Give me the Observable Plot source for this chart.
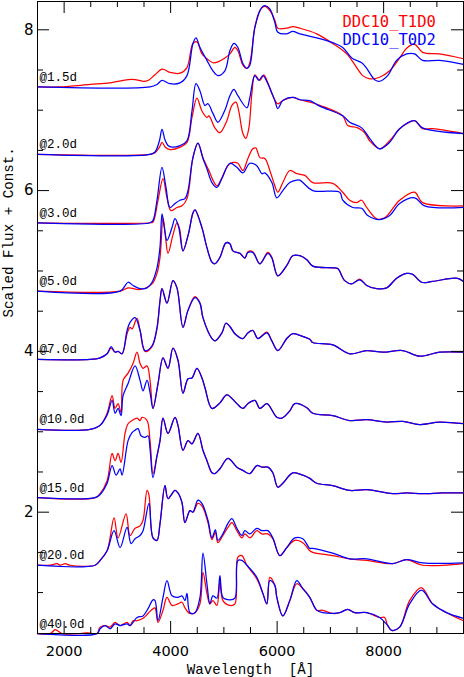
<!DOCTYPE html>
<html><head><meta charset="utf-8">
<script src="https://cdn.jsdelivr.net/npm/d3@7"></script>
<script src="https://cdn.jsdelivr.net/npm/@observablehq/plot@0.6"></script>
<style>
body{margin:0;background:#fff;}
svg text{white-space:pre;}
</style></head><body><div id="chart"></div>
<script>
const epochs = ["@1.5d","@2.0d","@3.0d","@5.0d","@7.0d","@10.0d","@15.0d","@20.0d","@40.0d"];
const labelBase = [7.29, 6.45, 5.60, 4.75, 3.90, 3.03, 2.18, 1.34, 0.49];
const models = ["DDC10_T1D0", "DDC10_T0D2"];
const modelColors = ["#ff0000", "#0000ff"];
const xMajor = [2000, 4000, 6000, 8000];
const xMinor = [2500, 3000, 3500, 4500, 5000, 5500, 6500, 7000, 7500, 8500, 9000];
const yMajor = [2, 4, 6, 8];
const yMinor = [1, 1.5, 2.5, 3, 3.5, 4.5, 5, 5.5, 6.5, 7, 7.5];
const xTitle = "Wavelength  [Å]";
const yTitle = "Scaled Flux + Const.";

// [wavelength (Å), scaled flux + const]
const red_1_5 = [[1500,7.29],[1926,7.29],[2488,7.32],[2863,7.34],[3201,7.38],[3332,7.38],[3482,7.36],[3576,7.37],[3707,7.44],[3838,7.51],[3988,7.47],[4176,7.46],[4307,7.53],[4419,7.83],[4494,7.85],[4588,7.70],[4682,7.64],[4794,7.59],[4888,7.60],[5019,7.65],[5113,7.70],[5207,7.78],[5263,7.74],[5357,7.56],[5432,7.52],[5488,7.59],[5582,8.03],[5676,8.24],[5769,8.29],[5863,8.24],[5957,8.12],[6013,8.02],[6182,8.02],[6294,8.04],[6426,8.02],[6744,7.95],[7044,7.83],[7307,7.70],[7494,7.53],[7607,7.43],[7738,7.39],[7926,7.41],[8113,7.49],[8301,7.65],[8432,7.77],[8582,7.82],[8732,7.72],[9051,7.70],[9500,7.64]];
const blue_1_5 = [[1500,7.29],[3613,7.29],[3744,7.32],[3838,7.37],[3988,7.33],[4176,7.34],[4307,7.43],[4419,7.83],[4476,7.90],[4551,7.78],[4682,7.62],[4794,7.49],[4888,7.43],[5019,7.49],[5113,7.74],[5188,7.83],[5263,7.78],[5357,7.58],[5432,7.52],[5488,7.56],[5582,8.03],[5713,8.28],[5769,8.30],[5863,8.26],[5957,8.09],[6013,7.97],[6182,7.95],[6294,7.98],[6426,7.95],[6744,7.90],[7044,7.84],[7232,7.78],[7401,7.65],[7588,7.59],[7682,7.52],[7832,7.38],[7926,7.36],[8076,7.43],[8244,7.62],[8432,7.70],[8582,7.70],[8732,7.62],[9051,7.62],[9500,7.57]];

const red_2_0 = [[1500,6.45],[3613,6.45],[3707,6.47],[3790,6.54],[3838,6.60],[3900,6.54],[3988,6.51],[4176,6.54],[4307,6.60],[4401,6.91],[4494,7.15],[4588,6.99],[4682,6.91],[4720,6.93],[4832,6.78],[4926,6.72],[5057,6.87],[5151,7.06],[5226,7.10],[5282,6.98],[5357,6.71],[5413,6.65],[5470,6.78],[5526,7.21],[5582,7.44],[5676,7.37],[5751,7.44],[5826,7.34],[5919,7.18],[6013,7.08],[6107,7.12],[6294,7.16],[6426,7.13],[6613,7.10],[6801,7.06],[7232,6.93],[7326,6.81],[7513,6.78],[7644,6.72],[7738,6.62],[7926,6.52],[8113,6.62],[8301,6.77],[8488,6.85],[8582,6.87],[8732,6.77],[8919,6.77],[9500,6.71]];
const blue_2_0 = [[1500,6.45],[3613,6.45],[3707,6.48],[3790,6.62],[3838,6.76],[3895,6.63],[3951,6.56],[4026,6.54],[4176,6.56],[4307,6.62],[4401,6.99],[4476,7.33],[4551,7.24],[4644,7.06],[4701,7.08],[4794,6.96],[4888,6.85],[5019,7.00],[5113,7.18],[5188,7.26],[5263,7.18],[5432,7.03],[5488,7.16],[5582,7.43],[5657,7.37],[5732,7.43],[5826,7.33],[5957,7.12],[6013,7.02],[6107,7.12],[6294,7.16],[6426,7.13],[6613,7.12],[6801,7.05],[7232,6.93],[7363,6.85],[7588,6.78],[7738,6.65],[7926,6.52],[8113,6.60],[8301,6.77],[8582,6.87],[8732,6.78],[9500,6.71]];

const red_3_0 = [[1500,5.60],[3613,5.60],[3669,5.61],[3763,5.88],[3857,6.15],[3932,5.91],[4007,5.75],[4119,5.79],[4213,5.81],[4307,5.90],[4419,6.41],[4513,6.59],[4607,6.41],[4682,6.30],[4738,6.22],[4794,6.13],[4869,6.06],[4963,6.16],[5076,6.31],[5169,6.35],[5263,6.34],[5357,6.25],[5451,6.40],[5544,6.52],[5601,6.53],[5676,6.41],[5769,6.40],[5863,6.25],[5957,6.06],[6013,5.98],[6107,6.10],[6238,6.25],[6369,6.21],[6520,6.19],[6669,6.10],[7044,6.09],[7232,5.98],[7363,5.88],[7494,5.85],[7588,5.88],[7682,5.79],[7869,5.65],[8019,5.66],[8301,5.88],[8582,5.98],[8732,5.85],[9500,5.81]];
const blue_3_0 = [[1500,5.60],[3613,5.60],[3669,5.63],[3744,5.88],[3838,6.29],[3913,6.04],[3988,5.79],[4082,5.84],[4176,5.88],[4269,5.90],[4326,6.00],[4419,6.41],[4513,6.59],[4607,6.40],[4682,6.27],[4776,6.10],[4869,6.04],[4963,6.15],[5113,6.34],[5244,6.29],[5357,6.22],[5488,6.34],[5619,6.31],[5713,6.21],[5769,6.22],[5901,6.10],[5994,5.91],[6107,6.00],[6238,6.10],[6369,6.13],[6426,6.13],[6669,6.00],[7176,5.98],[7232,5.88],[7419,5.79],[7588,5.78],[7701,5.69],[7926,5.64],[8113,5.69],[8301,5.84],[8582,5.91],[8769,5.81],[9500,5.79]];

const red_5_0 = [[1500,4.75],[3051,4.75],[3201,4.79],[3426,4.77],[3651,4.84],[3744,4.97],[3801,5.17],[3857,5.66],[3900,5.45],[3951,5.22],[4044,5.45],[4119,5.60],[4170,5.52],[4232,5.25],[4330,5.45],[4419,5.72],[4457,5.76],[4588,5.54],[4682,5.29],[4776,5.11],[4832,5.09],[4926,5.17],[5038,5.35],[5113,5.34],[5169,5.25],[5301,5.22],[5394,5.16],[5451,5.24],[5544,5.24],[5676,5.09],[5826,5.23],[5901,5.17],[6013,4.94],[6182,5.07],[6294,5.19],[6426,5.19],[6557,5.14],[6669,5.06],[7044,5.04],[7138,5.03],[7269,4.88],[7401,4.84],[7551,4.90],[7682,4.82],[7869,4.78],[8057,4.79],[8244,4.91],[8432,4.97],[8544,4.96],[8713,4.86],[8919,4.87],[9369,4.91],[9500,4.87]];
const blue_5_0 = [[1500,4.75],[3051,4.75],[3201,4.86],[3294,4.82],[3426,4.78],[3557,4.79],[3651,4.86],[3744,5.04],[3801,5.30],[3838,5.71],[3880,5.55],[3932,5.38],[4026,5.54],[4082,5.65],[4150,5.55],[4232,5.25],[4330,5.45],[4419,5.72],[4457,5.76],[4588,5.54],[4682,5.29],[4776,5.11],[4832,5.09],[4926,5.17],[5038,5.35],[5113,5.34],[5169,5.25],[5301,5.22],[5394,5.16],[5451,5.23],[5544,5.23],[5676,5.09],[5826,5.22],[5901,5.16],[6013,4.94],[6182,5.07],[6294,5.19],[6426,5.19],[6557,5.14],[6669,5.06],[7044,5.04],[7138,5.03],[7269,4.88],[7401,4.84],[7551,4.89],[7682,4.82],[7869,4.78],[8057,4.79],[8244,4.91],[8432,4.97],[8544,4.96],[8713,4.86],[8919,4.87],[9369,4.91],[9500,4.87]];

const red_7_0 = [[1500,3.90],[2488,3.90],[2676,3.92],[2807,3.97],[2882,4.04],[2957,3.99],[3013,4.00],[3088,3.97],[3182,4.22],[3238,4.30],[3276,4.28],[3369,4.41],[3426,4.26],[3519,4.00],[3651,4.06],[3744,4.28],[3801,4.63],[3838,4.78],[3932,4.60],[4044,4.88],[4119,4.79],[4232,4.30],[4326,4.51],[4457,4.68],[4551,4.60],[4607,4.42],[4776,4.16],[4832,4.13],[4963,4.23],[5038,4.35],[5113,4.31],[5207,4.22],[5357,4.16],[5451,4.23],[5544,4.26],[5638,4.16],[5807,4.24],[5901,4.13],[6013,4.01],[6182,4.16],[6294,4.22],[6426,4.20],[6613,4.15],[6669,4.11],[7044,4.08],[7363,3.97],[7682,4.01],[7982,3.99],[8357,4.01],[8676,3.94],[9051,3.99],[9500,3.99]];
const blue_7_0 = [[1500,3.90],[2488,3.90],[2676,3.92],[2807,3.97],[2882,4.06],[2957,3.99],[3013,4.00],[3088,3.97],[3182,4.26],[3238,4.36],[3332,4.42],[3426,4.26],[3519,4.01],[3651,4.07],[3744,4.30],[3801,4.63],[3838,4.78],[3932,4.60],[4044,4.88],[4119,4.79],[4232,4.30],[4326,4.51],[4457,4.67],[4551,4.60],[4607,4.42],[4776,4.16],[4832,4.13],[4963,4.23],[5038,4.35],[5113,4.31],[5207,4.22],[5357,4.16],[5451,4.23],[5544,4.26],[5638,4.16],[5807,4.23],[5901,4.13],[6013,4.01],[6182,4.16],[6294,4.22],[6426,4.20],[6613,4.15],[6669,4.11],[7044,4.08],[7363,3.97],[7682,4.01],[7982,3.99],[8357,4.01],[8676,3.94],[9051,3.99],[9500,3.99]];

const red_10_0 = [[1500,3.03],[2488,3.03],[2676,3.08],[2807,3.23],[2901,3.45],[2957,3.29],[3013,3.35],[3069,3.24],[3107,3.64],[3201,3.73],[3294,3.85],[3369,3.99],[3426,3.85],[3482,3.79],[3557,3.82],[3613,3.64],[3669,3.29],[3763,3.60],[3857,3.92],[3951,3.79],[4044,4.04],[4138,3.89],[4232,3.48],[4326,3.66],[4401,3.67],[4494,3.79],[4588,3.67],[4644,3.55],[4776,3.29],[4926,3.36],[5057,3.46],[5244,3.35],[5357,3.29],[5451,3.35],[5582,3.39],[5676,3.29],[5807,3.35],[5994,3.18],[6088,3.17],[6238,3.26],[6332,3.35],[6557,3.30],[6669,3.23],[7044,3.20],[7363,3.14],[7682,3.15],[8057,3.12],[8357,3.13],[8676,3.09],[9051,3.12],[9500,3.10]];
const blue_10_0 = [[1500,3.03],[2488,3.03],[2676,3.08],[2807,3.21],[2901,3.39],[2957,3.23],[3013,3.29],[3069,3.20],[3107,3.45],[3201,3.60],[3332,3.82],[3426,3.64],[3482,3.51],[3557,3.64],[3613,3.49],[3669,3.29],[3763,3.60],[3857,3.92],[3951,3.79],[4044,4.04],[4138,3.89],[4232,3.48],[4326,3.66],[4401,3.67],[4494,3.79],[4588,3.67],[4644,3.55],[4776,3.29],[4926,3.36],[5057,3.46],[5244,3.35],[5357,3.29],[5451,3.35],[5582,3.39],[5676,3.29],[5807,3.35],[5994,3.18],[6088,3.17],[6238,3.26],[6332,3.35],[6557,3.30],[6669,3.23],[7044,3.20],[7363,3.14],[7682,3.15],[8057,3.12],[8357,3.13],[8676,3.09],[9051,3.12],[9500,3.10]];

const red_15_0 = [[1500,2.18],[2582,2.18],[2676,2.23],[2807,2.39],[2901,2.73],[2957,2.64],[3013,2.73],[3069,2.62],[3144,2.98],[3201,3.10],[3276,3.14],[3369,3.17],[3426,3.14],[3463,3.18],[3557,3.14],[3613,2.89],[3669,2.48],[3744,2.70],[3801,2.89],[3857,3.17],[3951,2.98],[4082,3.18],[4138,3.08],[4232,2.77],[4326,2.89],[4401,2.85],[4513,2.98],[4607,2.77],[4682,2.64],[4776,2.49],[4832,2.48],[4926,2.54],[5076,2.67],[5244,2.56],[5357,2.52],[5488,2.48],[5619,2.58],[5713,2.56],[5826,2.56],[5919,2.49],[6013,2.31],[6107,2.36],[6294,2.49],[6482,2.46],[6613,2.42],[6744,2.36],[7044,2.33],[7363,2.27],[7682,2.28],[8169,2.23],[8432,2.24],[8732,2.23],[9107,2.24],[9500,2.24]];
const blue_15_0 = [[1500,2.18],[2582,2.18],[2676,2.22],[2807,2.36],[2901,2.58],[2976,2.46],[3051,2.54],[3088,2.46],[3201,2.89],[3276,2.99],[3332,3.02],[3388,3.04],[3444,2.95],[3519,2.93],[3576,2.95],[3613,2.79],[3669,2.43],[3744,2.70],[3801,2.89],[3857,3.17],[3951,2.98],[4082,3.18],[4138,3.08],[4232,2.77],[4326,2.89],[4401,2.85],[4513,2.98],[4607,2.77],[4682,2.64],[4776,2.49],[4832,2.48],[4926,2.54],[5076,2.67],[5244,2.56],[5357,2.52],[5488,2.48],[5619,2.58],[5713,2.56],[5826,2.56],[5919,2.49],[6013,2.31],[6107,2.36],[6294,2.49],[6482,2.46],[6613,2.42],[6744,2.36],[7044,2.33],[7363,2.27],[7682,2.28],[8169,2.23],[8432,2.24],[8732,2.23],[9107,2.24],[9500,2.24]];

const red_20_0 = [[1500,1.34],[1738,1.34],[1869,1.36],[1926,1.34],[2019,1.36],[2113,1.34],[2582,1.34],[2676,1.40],[2807,1.52],[2938,1.93],[3013,1.68],[3163,1.98],[3238,1.71],[3332,1.80],[3426,1.83],[3482,1.90],[3557,2.27],[3594,2.21],[3669,1.68],[3744,1.65],[3801,1.86],[3894,2.33],[3951,2.17],[4082,2.27],[4138,2.24],[4213,2.12],[4269,1.87],[4363,2.02],[4419,2.00],[4513,2.11],[4588,2.08],[4701,1.87],[4776,1.66],[4840,1.75],[4888,1.62],[4982,1.71],[5076,1.81],[5151,1.87],[5244,1.77],[5338,1.68],[5394,1.73],[5488,1.68],[5619,1.77],[5713,1.73],[5826,1.73],[5919,1.67],[6051,1.46],[6182,1.56],[6332,1.65],[6482,1.62],[6613,1.52],[6669,1.50],[7044,1.46],[7363,1.42],[7682,1.40],[8169,1.36],[8432,1.41],[8732,1.34],[9500,1.36]];
const blue_20_0 = [[1500,1.34],[2582,1.34],[2676,1.40],[2807,1.52],[2938,1.77],[3051,1.56],[3182,1.81],[3257,1.61],[3332,1.67],[3426,1.71],[3482,1.77],[3594,2.11],[3669,1.68],[3744,1.65],[3801,1.86],[3894,2.33],[3951,2.17],[4082,2.27],[4138,2.24],[4213,2.12],[4269,1.87],[4363,2.02],[4419,2.00],[4513,2.15],[4588,2.11],[4701,1.90],[4776,1.68],[4840,1.78],[4888,1.65],[4982,1.73],[5076,1.86],[5151,1.92],[5244,1.80],[5338,1.71],[5394,1.77],[5488,1.73],[5619,1.80],[5713,1.77],[5826,1.77],[5919,1.68],[6051,1.46],[6182,1.56],[6332,1.68],[6482,1.67],[6613,1.55],[6669,1.55],[7044,1.49],[7363,1.42],[7682,1.42],[8169,1.36],[8432,1.41],[8732,1.37],[9500,1.37]];

const red_40_0 = [[1500,0.49],[1738,0.49],[1832,0.54],[1888,0.52],[1963,0.49],[2300,0.49],[2432,0.50],[2526,0.49],[2619,0.49],[2676,0.57],[2769,0.59],[2863,0.57],[2957,0.63],[3051,0.59],[3182,0.63],[3238,0.59],[3294,0.65],[3369,0.65],[3482,0.68],[3576,0.74],[3669,0.80],[3707,0.81],[3763,0.63],[3857,0.78],[3932,0.94],[4026,0.84],[4138,0.86],[4213,0.88],[4269,0.81],[4363,0.74],[4457,0.75],[4551,0.86],[4607,1.25],[4682,0.99],[4738,0.86],[4794,0.90],[4869,0.84],[4926,1.15],[4982,0.90],[5113,0.84],[5207,0.86],[5263,1.44],[5338,1.46],[5432,1.34],[5619,1.17],[5732,0.99],[5807,0.86],[5863,1.19],[5957,1.09],[5994,0.94],[6107,0.71],[6238,0.90],[6369,1.11],[6482,1.05],[6613,0.94],[6744,0.78],[6857,0.78],[7044,0.74],[7176,0.75],[7326,0.79],[7457,0.75],[7682,0.75],[7926,0.69],[8019,0.69],[8076,0.59],[8151,0.53],[8301,0.57],[8488,0.90],[8713,1.06],[8919,0.86],[9182,0.75],[9500,0.65]];
const blue_40_0 = [[1500,0.49],[2619,0.49],[2676,0.55],[2769,0.59],[2863,0.55],[2957,0.61],[3051,0.59],[3182,0.61],[3238,0.59],[3369,0.69],[3482,0.71],[3576,0.80],[3669,0.91],[3707,0.90],[3763,0.65],[3857,0.94],[3932,1.15],[4026,0.96],[4138,0.94],[4213,0.96],[4269,0.90],[4307,0.99],[4363,0.75],[4457,0.75],[4551,0.94],[4607,1.49],[4682,1.11],[4738,0.86],[4794,0.96],[4869,0.93],[4926,1.21],[4982,0.94],[5113,0.91],[5207,0.93],[5263,1.40],[5338,1.40],[5432,1.34],[5619,1.19],[5732,0.99],[5807,0.86],[5863,1.15],[5957,1.09],[5994,0.94],[6107,0.71],[6238,0.90],[6369,1.15],[6482,1.05],[6613,0.94],[6744,0.78],[6857,0.75],[7044,0.74],[7176,0.75],[7326,0.79],[7457,0.75],[7682,0.75],[7926,0.69],[8076,0.59],[8151,0.53],[8301,0.57],[8488,0.86],[8713,1.03],[8919,0.86],[9182,0.75],[9500,0.68]];

const redSeries = [red_1_5, red_2_0, red_3_0, red_5_0, red_7_0, red_10_0, red_15_0, red_20_0, red_40_0];
const blueSeries = [blue_1_5, blue_2_0, blue_3_0, blue_5_0, blue_7_0, blue_10_0, blue_15_0, blue_20_0, blue_40_0];

function toRows(list, model) {
  const rows = [];
  list.forEach((pts, e) => pts.forEach(([w, v]) => rows.push({model, epoch: epochs[e], w, v})));
  return rows;
}
const redRows = toRows(redSeries, models[0]);
const blueRows = toRows(blueSeries, models[1]);
const labelRows = epochs.map((label, i) => ({label, y: labelBase[i]}));

const W = 464, H = 677, mL = 37, mR = 1, mT = 1, mB = 44;
const frameH = H - mT - mB, frameW = W - mL - mR;
const monoSerif = "Liberation Mono";

const chart = Plot.plot({
  width: W, height: H,
  marginLeft: mL, marginRight: mR, marginTop: mT, marginBottom: mB,
  x: {domain: [1500, 9500], axis: null},
  y: {domain: [0.491, 8.352], axis: null},
  style: {background: "white", color: "black"},
  marks: [
    Plot.line(redRows, {x: "w", y: "v", z: "epoch", stroke: modelColors[0], strokeWidth: 1.25, curve: "catmull-rom"}),
    Plot.line(blueRows, {x: "w", y: "v", z: "epoch", stroke: modelColors[1], strokeWidth: 1.25, curve: "catmull-rom"}),
    Plot.frame({stroke: "black", strokeWidth: 1}),
    Plot.tickX(xMajor, {x: d => d, insetTop: frameH - 12, stroke: "black"}),
    Plot.tickX(xMajor, {x: d => d, insetBottom: frameH - 12, stroke: "black"}),
    Plot.tickX(xMinor, {x: d => d, insetTop: frameH - 6, stroke: "black"}),
    Plot.tickX(xMinor, {x: d => d, insetBottom: frameH - 6, stroke: "black"}),
    Plot.tickY(yMajor, {y: d => d, insetRight: frameW - 12, stroke: "black"}),
    Plot.tickY(yMajor, {y: d => d, insetLeft: frameW - 12, stroke: "black"}),
    Plot.tickY(yMinor, {y: d => d, insetRight: frameW - 6, stroke: "black"}),
    Plot.tickY(yMinor, {y: d => d, insetLeft: frameW - 6, stroke: "black"}),
    Plot.text(xMajor, {x: d => d, text: d => String(d), frameAnchor: "bottom", dy: 18, lineAnchor: "middle", fontFamily: "DejaVu Sans", fontSize: 14.5, fill: "black"}),
    Plot.text(yMajor, {y: d => d, text: d => String(d), frameAnchor: "left", dx: -4, textAnchor: "end", lineAnchor: "middle", fontFamily: "DejaVu Sans", fontSize: 15, fill: "black"}),
    Plot.text([xTitle], {frameAnchor: "bottom", dy: 36, lineAnchor: "middle", fontFamily: monoSerif, fontSize: 14.2, fill: "black"}),
    Plot.text([yTitle], {frameAnchor: "left", dx: -29, rotate: -90, lineAnchor: "middle", fontFamily: monoSerif, fontSize: 14.2, fill: "black"}),
    Plot.text(labelRows, {y: "y", text: "label", frameAnchor: "left", dx: 2, dy: -6, textAnchor: "start", lineAnchor: "bottom", fontFamily: monoSerif, fontSize: 12.5, fill: "black"}),
    Plot.text([models[0]], {frameAnchor: "top-right", dx: -121, dy: 21, textAnchor: "start", lineAnchor: "middle", fontFamily: "DejaVu Sans Mono", fontSize: 15.5, fill: modelColors[0]}),
    Plot.text([models[1]], {frameAnchor: "top-right", dx: -121, dy: 39, textAnchor: "start", lineAnchor: "middle", fontFamily: "DejaVu Sans Mono", fontSize: 15.5, fill: modelColors[1]})
  ]
});
document.getElementById("chart").appendChild(chart);
</script>
</body></html>
